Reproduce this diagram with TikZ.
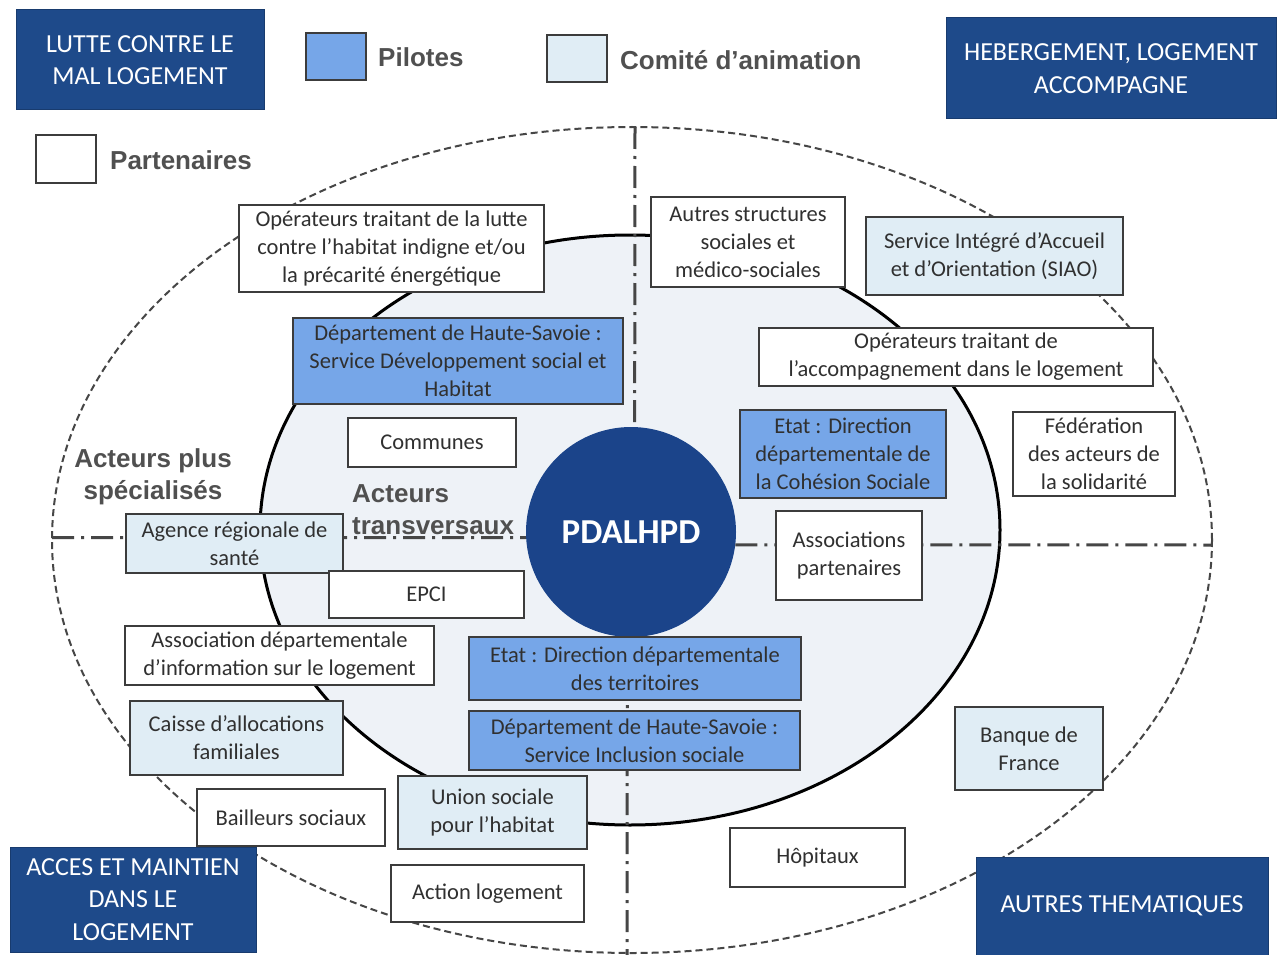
\documentclass[tikz,border=0pt]{standalone}
\usepackage{fontspec}
\setmainfont{Carlito}
\newfontfamily\arialfont{Liberation Sans}
\definecolor{navy}{RGB}{30,74,138}
\definecolor{circnavy}{RGB}{27,68,138}
\definecolor{pilot}{RGB}{118,166,232}
\definecolor{comite}{RGB}{224,237,245}
\definecolor{innerfill}{RGB}{238,242,247}
\definecolor{boxline}{RGB}{60,60,60}
\definecolor{txt}{RGB}{48,48,48}
\definecolor{legtxt}{RGB}{80,80,80}
\definecolor{dashgray}{RGB}{70,70,70}
\tikzset{
  basebox/.style={draw=boxline, line width=1.5pt, text=txt, align=center,
    font=\fontsize{22.5}{28}\selectfont, inner sep=0pt},
  partner/.style={basebox, fill=white},
  comitebox/.style={basebox, fill=comite},
  pilotbox/.style={basebox, fill=pilot},
  theme/.style={fill=navy, draw=navy!80!black, line width=1pt, text=white, align=center,
    font=\fontsize{26}{32.5}\selectfont, inner sep=0pt},
  legsq/.style={draw=boxline, line width=1.2pt, inner sep=0pt, minimum width=60pt},
  legtext/.style={text=legtxt, anchor=west, font=\arialfont\bfseries\fontsize{26}{30}\selectfont, inner sep=0pt},
  group/.style={text=legtxt, font=\arialfont\bfseries\fontsize{26}{32}\selectfont, inner sep=0pt},
  divider/.style={draw=dashgray, line width=3pt, dash pattern=on 22pt off 7pt on 3pt off 7pt},
  sz/.style 2 args={minimum width=#1pt, minimum height=#2pt}
}
\begin{document}
\begin{tikzpicture}[x=1pt,y=-1pt]
\useasboundingbox (0,0) rectangle (1280,955);
\fill[white] (0,0) rectangle (1280,955);

% outer dashed ellipse
\draw[dashgray, line width=2pt, dash pattern=on 7pt off 4pt] (632,540) ellipse [x radius=580, y radius=413];
% inner ellipse
\draw[black, line width=3pt, fill=innerfill] (630,530) ellipse [x radius=370, y radius=295];

% centre
\node[circle, fill=circnavy, minimum size=210pt, inner sep=0pt, text=white,
  font=\bfseries\fontsize{35}{40}\selectfont] (pd) at (631,532) {PDALHPD};

% dividers
\coordinate (vtop) at (635,127);
\coordinate (vbot) at (627,955);
\coordinate (hleft) at (52,537.5);
\coordinate (hright) at (1212,545);
\draw[divider] (vtop) -- (pd.88);
\draw[divider] (pd.268) -- (vbot);
\draw[divider] (hleft) -- (pd.183);
\draw[divider] (pd.-7) -- (hright);

% legend
\node[theme, sz={248}{100}] (lutte) at (140,60) {LUTTE CONTRE LE\\MAL LOGEMENT};
\node[theme, sz={330}{101}] (heberg) at (1111,68.5) {HEBERGEMENT, LOGEMENT\\ACCOMPAGNE};
\node[theme, sz={246}{105}] (acces) at (133,899.5) {ACCES ET MAINTIEN\\DANS LE\\LOGEMENT};
\node[theme, sz={292}{98}] (autth) at (1122,906) {AUTRES THEMATIQUES};

\node[legsq, fill=pilot, minimum height=47pt] (sqp) at (336,56.5) {};
\node[legtext] (lp) at (378,57) {Pilotes};
\node[legsq, fill=comite, minimum height=47pt] (sqc) at (577,58.5) {};
\node[legtext] (lc) at (620,60) {Comité d’animation};
\node[legsq, fill=white, minimum height=48pt] (sqa) at (66,159) {};
\node[legtext] (la) at (110,160) {Partenaires};

% group labels
\node[group, align=center] (spec) at (153,477) {Acteurs plus\\spécialisés};
\node[group, align=left, anchor=west] (transv) at (352,510) {Acteurs\\transversaux};

% boxes
\node[partner, sz={305}{87}] (op1) at (391.5,248.5) {Opérateurs traitant de la lutte\\contre l’habitat indigne et/ou\\la précarité énergétique};
\node[partner, sz={194}{90}] (autres) at (748,242) {Autres structures\\sociales et\\médico-sociales};
\node[comitebox, sz={257}{78}] (siao) at (994.5,256) {Service Intégré d’Accueil\\et d’Orientation (SIAO)};
\node[pilotbox, sz={330}{86}] (dept1) at (458,361) {Département de Haute-Savoie :\\Service Développement social et\\Habitat};
\node[partner, sz={394}{58}] (opacc) at (956,357) {Opérateurs traitant de\\l’accompagnement dans le logement};
\node[partner, sz={168}{49}] (communes) at (432,442.5) {Communes};
\node[pilotbox, sz={206}{88}] (ddcs) at (843,454) {Etat : Direction\\départementale de\\la Cohésion Sociale};
\node[partner, sz={162}{84}] (fed) at (1094,454) {Fédération\\des acteurs de\\la solidarité};
\node[comitebox, sz={217}{59}] (ars) at (234.5,543.5) {Agence régionale de\\santé};
\node[partner, sz={195}{47}] (epci) at (426.5,594.5) {EPCI};
\node[partner, sz={146}{89}] (assoc) at (849,555.5) {Associations\\partenaires};
\node[partner, sz={309}{59}] (adil) at (279.5,655.5) {Association départementale\\d’information sur le logement};
\node[pilotbox, sz={332}{63}] (ddt) at (635,668.5) {Etat : Direction départementale\\des territoires};
\node[comitebox, sz={213}{74}] (caf) at (236.5,738) {Caisse d’allocations\\familiales};
\node[pilotbox, sz={331}{59}] (dept2) at (634.5,740.5) {Département de Haute-Savoie :\\Service Inclusion sociale};
\node[comitebox, sz={148}{83}] (bdf) at (1029,748.5) {Banque de\\France};
\node[partner, sz={188}{57}] (bailleurs) at (291,817.5) {Bailleurs sociaux};
\node[comitebox, sz={189}{73}] (ush) at (492.5,812.5) {Union sociale\\pour l’habitat};
\node[partner, sz={175}{59}] (hop) at (817.5,857.5) {Hôpitaux};
\node[partner, sz={193}{57}] (action) at (487.5,893.5) {Action logement};
\end{tikzpicture}
\end{document}
